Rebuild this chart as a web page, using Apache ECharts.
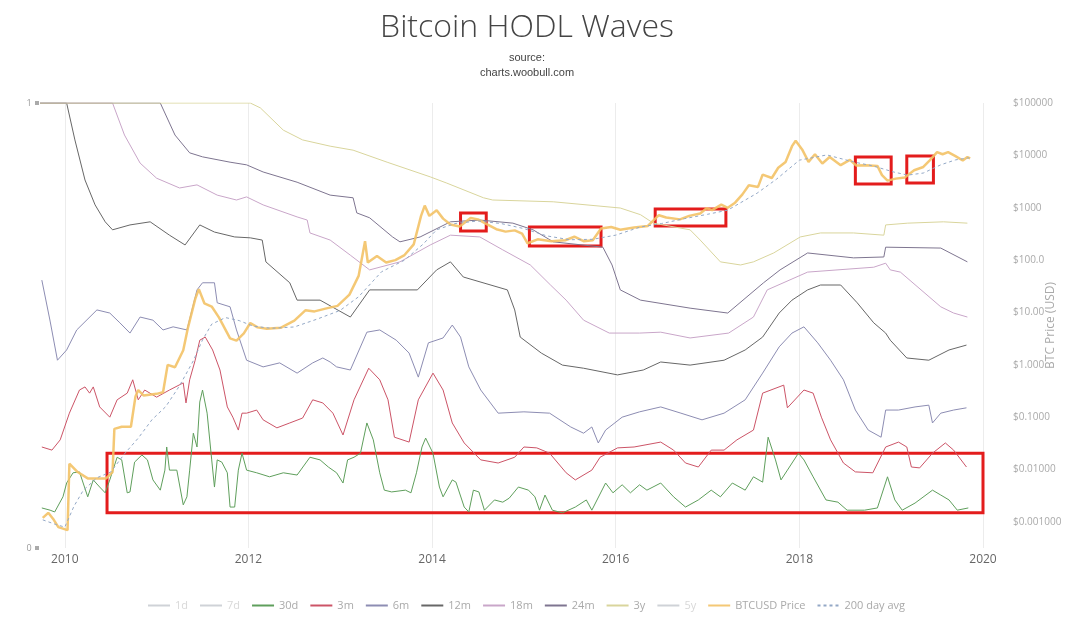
<!DOCTYPE html>
<html>
<head>
<meta charset="utf-8">
<title>Bitcoin HODL Waves</title>
<script src="https://cdn.jsdelivr.net/npm/echarts@6/dist/echarts.min.js"></script>
<style>
  html, body { margin: 0; padding: 0; background: #fff; }
  #main { width: 1080px; height: 623px; }
</style>
</head>
<body>
<div id="main"></div>
<script>
// HODL wave lines: [year, % of supply]
var hodl1d = [];
var hodl7d = [];
var hodl30d = [
  [2009.75,9.0],[2009.84,8.5],[2009.89,8.1],[2009.98,11.5],[2010.02,14.6],[2010.09,16.9],[2010.16,17.1],[2010.20,14.6],
  [2010.25,11.5],[2010.31,15.3],[2010.38,13.7],[2010.44,12.4],[2010.49,15.3],[2010.57,20.4],[2010.62,19.8],[2010.68,12.4],
  [2010.71,12.6],[2010.76,19.3],[2010.84,20.9],[2010.90,19.8],[2010.96,15.3],[2011.04,13.0],[2011.09,17.5],[2011.11,22.7],
  [2011.14,17.5],[2011.22,17.5],[2011.29,9.7],[2011.33,11.5],[2011.36,17.5],[2011.40,25.8],[2011.44,22.7],[2011.47,32.8],
  [2011.50,35.5],[2011.55,30.3],[2011.60,19.8],[2011.63,13.7],[2011.66,19.8],[2011.71,19.3],[2011.77,16.9],[2011.80,9.2],
  [2011.85,9.2],[2011.89,17.5],[2011.93,21.3],[2011.98,17.5],[2012.09,16.9],[2012.23,16.0],[2012.38,16.9],[2012.53,16.4],
  [2012.67,20.4],[2012.78,19.8],[2012.87,18.2],[2012.96,16.9],[2013.03,14.6],[2013.08,19.8],[2013.15,20.4],[2013.22,21.3],
  [2013.29,28.1],[2013.36,24.3],[2013.43,16.9],[2013.48,13.0],[2013.56,12.6],[2013.71,13.0],[2013.77,12.4],[2013.83,16.9],
  [2013.89,22.7],[2013.93,24.7],[2014.01,21.3],[2014.08,13.7],[2014.12,11.5],[2014.22,15.3],[2014.26,14.8],[2014.35,9.2],
  [2014.40,8.1],[2014.45,13.0],[2014.51,12.6],[2014.57,8.5],[2014.68,10.8],[2014.77,10.3],[2014.84,11.2],[2014.94,13.7],
  [2015.05,13.0],[2015.12,11.5],[2015.17,8.5],[2015.23,11.9],[2015.31,8.5],[2015.42,7.9],[2015.56,9.2],[2015.68,10.8],
  [2015.74,8.5],[2015.89,14.6],[2015.97,12.4],[2016.07,14.2],[2016.16,12.4],[2016.26,14.2],[2016.34,13.0],[2016.49,14.6],
  [2016.63,11.5],[2016.76,9.2],[2016.90,10.8],[2017.04,13.0],[2017.14,11.5],[2017.27,14.6],[2017.41,13.0],[2017.50,16.0],
  [2017.60,14.8],[2017.66,24.9],[2017.74,19.8],[2017.80,15.3],[2017.87,17.5],[2017.99,21.3],[2018.05,19.8],[2018.15,16.0],
  [2018.29,10.8],[2018.42,10.3],[2018.52,8.5],[2018.71,8.5],[2018.85,9.0],[2018.96,16.0],[2019.04,10.8],[2019.12,8.5],
  [2019.26,10.1],[2019.45,13.0],[2019.54,11.9],[2019.63,10.8],[2019.72,8.5],[2019.84,9.0]
];
var hodl3m = [
  [2009.75,22.7],[2009.86,22.0],[2009.95,24.3],[2010.05,30.3],[2010.16,35.5],[2010.22,36.2],[2010.27,34.8],[2010.31,36.2],
  [2010.38,31.7],[2010.49,29.4],[2010.57,33.3],[2010.68,34.8],[2010.74,37.8],[2010.80,33.3],[2010.87,35.5],[2011.00,33.9],
  [2011.14,35.5],[2011.29,37.1],[2011.32,32.6],[2011.36,37.8],[2011.42,42.2],[2011.47,46.7],[2011.53,47.4],[2011.61,44.5],
  [2011.69,40.0],[2011.77,31.7],[2011.83,29.4],[2011.89,26.5],[2011.93,30.3],[2011.98,30.3],[2012.09,31.0],[2012.16,28.8],
  [2012.31,27.0],[2012.45,28.1],[2012.59,29.2],[2012.70,33.3],[2012.81,32.6],[2012.92,30.3],[2013.03,25.4],[2013.15,33.3],
  [2013.31,40.4],[2013.43,37.8],[2013.52,33.3],[2013.59,24.9],[2013.75,23.8],[2013.85,33.3],[2014.01,39.3],[2014.12,35.5],
  [2014.22,28.1],[2014.35,23.6],[2014.53,19.8],[2014.72,19.1],[2014.90,20.4],[2015.00,22.7],[2015.14,22.5],[2015.28,21.3],
  [2015.46,16.9],[2015.56,15.3],[2015.74,17.5],[2015.83,20.4],[2016.02,22.5],[2016.20,22.7],[2016.49,23.8],[2016.63,22.0],
  [2016.76,19.1],[2016.90,18.2],[2017.04,22.0],[2017.18,22.0],[2017.32,24.3],[2017.50,26.5],[2017.60,34.8],[2017.83,36.6],
  [2017.87,31.5],[2018.05,35.5],[2018.15,34.8],[2018.24,29.4],[2018.34,24.3],[2018.48,19.1],[2018.61,17.1],[2018.80,16.9],
  [2018.94,22.7],[2019.08,23.8],[2019.17,22.7],[2019.22,18.2],[2019.31,18.0],[2019.45,21.3],[2019.59,23.6],[2019.68,22.0],
  [2019.82,18.2]
];
var hodl6m = [
  [2009.75,60.2],[2009.84,51.0],[2009.92,42.2],[2010.02,44.5],[2010.13,49.0],[2010.35,53.5],[2010.49,52.8],[2010.60,50.6],
  [2010.71,48.3],[2010.82,51.9],[2010.96,51.2],[2011.07,49.0],[2011.18,49.7],[2011.33,49.0],[2011.44,58.0],[2011.50,59.6],
  [2011.63,59.6],[2011.66,55.1],[2011.80,54.2],[2011.87,49.0],[2011.98,42.2],[2012.16,40.7],[2012.34,41.6],[2012.53,39.3],
  [2012.70,41.6],[2012.81,42.7],[2012.89,41.8],[2012.96,40.7],[2013.11,40.0],[2013.29,48.5],[2013.43,49.0],[2013.61,46.7],
  [2013.75,43.8],[2013.85,38.4],[2013.96,46.1],[2014.12,47.2],[2014.22,50.1],[2014.31,47.4],[2014.40,40.7],[2014.53,35.5],
  [2014.72,30.3],[2015.00,30.6],[2015.28,30.3],[2015.51,27.2],[2015.65,25.8],[2015.74,27.2],[2015.81,23.6],[2015.89,26.5],
  [2016.07,29.4],[2016.26,30.6],[2016.49,31.7],[2016.71,30.3],[2016.94,28.8],[2017.18,30.3],[2017.41,33.3],[2017.60,39.3],
  [2017.78,45.2],[2017.92,48.3],[2018.05,49.7],[2018.20,46.1],[2018.34,42.2],[2018.48,37.8],[2018.61,31.0],[2018.75,26.5],
  [2018.89,24.9],[2018.94,31.0],[2019.08,31.0],[2019.26,31.7],[2019.41,32.1],[2019.45,28.1],[2019.54,30.3],[2019.68,31.0],
  [2019.82,31.5]
];
var hodl12m = [
  [2009.73,100],[2010.02,100],[2010.11,91.7],[2010.22,82.7],[2010.33,77.1],[2010.44,73.3],[2010.52,71.5],[2010.71,72.6],
  [2010.93,73.3],[2011.14,70.3],[2011.31,68.1],[2011.47,72.6],[2011.63,71.0],[2011.85,69.9],[2012.02,69.7],[2012.15,69.2],
  [2012.19,64.3],[2012.45,59.6],[2012.53,55.7],[2012.78,55.7],[2013.11,51.9],[2013.32,58.0],[2013.84,58.0],[2014.05,62.5],
  [2014.20,64.3],[2014.34,60.9],[2014.82,58.0],[2014.90,53.5],[2014.96,47.4],[2015.19,43.8],[2015.42,41.1],[2015.65,40.4],
  [2016.02,38.9],[2016.30,40.0],[2016.49,41.8],[2016.81,41.1],[2017.18,42.2],[2017.41,44.5],[2017.60,47.4],[2017.78,52.8],
  [2017.92,55.7],[2018.09,58.0],[2018.23,59.1],[2018.45,59.1],[2018.63,55.1],[2018.81,50.6],[2018.94,48.3],[2018.99,46.7],
  [2019.17,42.7],[2019.41,42.2],[2019.63,44.5],[2019.82,45.6]
];
var hodl18m = [
  [2009.73,100],[2010.52,100],[2010.65,92.8],[2010.82,86.5],[2011.00,83.1],[2011.25,80.9],[2011.44,81.6],[2011.66,79.3],
  [2011.87,78.2],[2011.98,78.9],[2012.16,77.1],[2012.53,74.4],[2012.64,73.7],[2012.67,70.8],[2012.89,69.2],[2013.11,65.8],
  [2013.32,62.5],[2013.65,64.3],[2013.98,68.1],[2014.20,70.3],[2014.52,69.9],[2014.77,67.0],[2015.07,63.6],[2015.29,59.1],
  [2015.46,55.7],[2015.65,51.2],[2015.93,48.3],[2016.26,48.3],[2016.49,48.5],[2016.81,47.2],[2017.23,48.3],[2017.50,51.9],
  [2017.65,58.0],[2018.09,62.0],[2018.81,63.1],[2018.94,64.0],[2018.99,62.5],[2019.10,62.0],[2019.54,54.2],[2019.68,52.8],
  [2019.83,51.9]
];
var hodl24m = [
  [2009.73,100],[2011.04,100],[2011.20,92.8],[2011.36,88.8],[2011.50,87.9],[2011.80,86.7],[2011.98,86.1],[2012.16,84.5],
  [2012.53,82.2],[2012.89,79.3],[2013.14,78.7],[2013.18,75.3],[2013.32,74.2],[2013.57,69.9],[2013.65,68.8],[2013.87,69.9],
  [2014.20,73.3],[2014.52,73.7],[2014.88,73.0],[2015.10,71.5],[2015.32,68.8],[2015.86,67.6],[2015.96,63.6],[2016.05,58.0],
  [2016.27,55.7],[2016.81,53.9],[2017.22,52.8],[2017.61,59.6],[2017.79,62.5],[2018.09,66.3],[2018.59,65.2],[2018.92,65.4],
  [2018.94,67.6],[2019.54,67.4],[2019.83,64.3]
];
var hodl3y = [
  [2009.73,100],[2012.02,100],[2012.13,98.9],[2012.38,93.9],[2012.59,91.7],[2012.89,90.3],[2013.14,89.4],[2013.51,86.7],
  [2013.98,83.4],[2014.16,82.0],[2014.56,78.7],[2014.66,78.2],[2015.32,77.8],[2016.05,76.4],[2016.27,74.9],[2016.41,73.0],
  [2016.81,71.5],[2016.92,69.2],[2017.14,64.3],[2017.36,63.6],[2017.50,64.3],[2017.72,66.3],[2018.01,69.9],[2018.23,70.8],
  [2018.59,70.8],[2018.92,70.3],[2018.94,72.6],[2019.18,73.0],[2019.57,73.3],[2019.83,73.0]
];
var hodl5y = [];

// BTCUSD price and its 200 day average: [year, USD]
var btcPrice = [
  [2009.76,0.0012],[2009.82,0.0015],[2009.88,0.0011],[2009.93,0.0008],[2010.03,0.0007],[2010.05,0.013],[2010.14,0.009],
  [2010.25,0.0068],[2010.45,0.0068],[2010.52,0.009],[2010.54,0.06],[2010.62,0.066],[2010.72,0.066],[2010.77,0.25],
  [2010.80,0.33],[2010.86,0.26],[2011.00,0.28],[2011.07,0.3],[2011.12,1.0],[2011.20,0.9],[2011.29,1.9],[2011.34,5],
  [2011.42,18],[2011.46,28],[2011.52,15],[2011.60,13],[2011.68,8],[2011.80,3.2],[2011.87,2.9],[2011.95,4],[2012.02,6.3],
  [2012.10,5.2],[2012.20,4.9],[2012.35,5.1],[2012.50,7],[2012.62,11],[2012.72,10.5],[2012.85,12],[2012.97,13.4],
  [2013.10,22],[2013.20,50],[2013.27,230],[2013.30,90],[2013.40,120],[2013.50,90],[2013.60,100],[2013.70,125],
  [2013.80,200],[2013.88,700],[2013.92,1100],[2013.97,700],[2014.05,900],[2014.12,620],[2014.20,480],[2014.30,440],
  [2014.42,640],[2014.50,600],[2014.60,480],[2014.70,390],[2014.80,350],[2014.90,370],[2014.98,320],[2015.04,210],
  [2015.15,250],[2015.30,230],[2015.45,240],[2015.55,280],[2015.65,230],[2015.75,240],[2015.84,400],[2015.95,430],
  [2016.05,380],[2016.20,420],[2016.35,450],[2016.47,720],[2016.55,650],[2016.70,600],[2016.80,700],[2016.92,780],
  [2016.99,980],[2017.05,900],[2017.15,1150],[2017.22,1000],[2017.30,1250],[2017.38,1800],[2017.45,2700],[2017.55,2500],
  [2017.60,4300],[2017.70,3700],[2017.77,5800],[2017.85,7500],[2017.92,15000],[2017.96,19000],[2018.03,13000],
  [2018.10,7500],[2018.17,10500],[2018.25,7000],[2018.33,9300],[2018.45,6500],[2018.55,8200],[2018.62,6400],
  [2018.72,6500],[2018.85,6300],[2018.90,4200],[2018.96,3300],[2019.05,3600],[2019.15,3800],[2019.25,5200],
  [2019.35,6000],[2019.42,8000],[2019.50,11500],[2019.56,10500],[2019.62,11500],[2019.70,9700],[2019.78,8000],
  [2019.83,9300],[2019.86,8800]
];
var btcAvg200 = [
  [2009.76,0.0011],[2009.90,0.0009],[2010.00,0.0008],[2010.10,0.002],[2010.20,0.004],[2010.35,0.007],[2010.50,0.009],
  [2010.65,0.02],[2010.80,0.04],[2010.95,0.09],[2011.10,0.16],[2011.25,0.4],[2011.40,1.2],[2011.50,3],[2011.60,6],
  [2011.75,8],[2011.90,7],[2012.05,5.5],[2012.25,5],[2012.50,5.3],[2012.75,7.5],[2013.00,11],[2013.20,20],[2013.45,60],
  [2013.70,100],[2013.90,200],[2014.05,380],[2014.25,500],[2014.50,560],[2014.75,500],[2015.00,400],[2015.25,290],
  [2015.50,245],[2015.75,250],[2016.00,300],[2016.27,430],[2016.50,500],[2016.75,620],[2017.00,750],[2017.22,900],
  [2017.54,1900],[2017.75,3500],[2018.00,8100],[2018.30,10200],[2018.59,7500],[2018.80,6300],[2019.03,4800],
  [2019.18,4200],[2019.35,4600],[2019.54,6600],[2019.70,8200],[2019.85,9000]
];

var yearTicks = [2010, 2012, 2014, 2016, 2018, 2020];
var priceTickLabels = {
  '-3': '$0.001000', '-2': '$0.01000', '-1': '$0.1000', '0': '$1.000', '1': '$10.00',
  '2': '$100.0', '3': '$1000', '4': '$10000', '5': '$100000'
};

var hodlNames = ['1d', '7d', '30d', '3m', '6m', '12m', '18m', '24m', '3y', '5y'];
var hodlData = [hodl1d, hodl7d, hodl30d, hodl3m, hodl6m, hodl12m, hodl18m, hodl24m, hodl3y, hodl5y];
var hodlColors = ['#bbbbbb', '#cfcfcf', '#5f9f5c', '#cc5467', '#8d8db3', '#676767', '#c9a6c9', '#7e7590', '#d9d59c', '#c7cfd8'];

var redBox = { color: 'rgba(0,0,0,0)', borderColor: '#e31c1c', borderWidth: 3 };

var myChart = echarts.init(document.getElementById('main'));

var series = hodlNames.map(function (name, i) {
  var s = {
    name: name,
    type: 'line',
    data: hodlData[i],
    symbol: 'none',
    color: hodlColors[i],
    lineStyle: { width: 1, color: hodlColors[i] },
    xAxisIndex: 0,
    yAxisIndex: 0,
    animation: false
  };
  if (name === '30d') {
    s.markArea = {
      silent: true,
      itemStyle: redBox,
      data: [[{ coord: [2010.46, 21.3] }, { coord: [2020, 7.9] }]]
    };
  }
  return s;
});

series.push({
  name: 'BTCUSD Price',
  type: 'line',
  data: btcPrice,
  symbol: 'none',
  color: '#f3c266',
  lineStyle: { width: 2.5, color: '#f3c266', opacity: 0.9 },
  yAxisIndex: 1,
  animation: false,
  markArea: {
    silent: true,
    itemStyle: redBox,
    data: [
      [{ coord: [2014.31, 794] }, { coord: [2014.59, 361] }],
      [{ coord: [2015.06, 430] }, { coord: [2015.84, 187] }],
      [{ coord: [2016.43, 948] }, { coord: [2017.20, 450] }],
      [{ coord: [2018.61, 9310] }, { coord: [2019.00, 2845] }],
      [{ coord: [2019.17, 9750] }, { coord: [2019.46, 2970] }]
    ]
  }
});
series.push({
  name: '200 day avg',
  type: 'line',
  data: btcAvg200,
  symbol: 'none',
  color: '#93a8c6',
  lineStyle: { width: 1, type: [3, 3], color: '#93a8c6' },
  yAxisIndex: 1,
  animation: false
});

var option = {
  backgroundColor: '#fff',
  title: {
    text: 'Bitcoin HODL Waves',
    subtext: 'source:\ncharts.woobull.com',
    left: 527,
    top: 12,
    padding: 0,
    textAlign: 'center',
    itemGap: 6,
    textStyle: { fontFamily: 'Open Sans', fontWeight: 300, fontSize: 32, color: '#444' },
    subtextStyle: { fontFamily: 'Liberation Sans', fontSize: 11, color: '#444', lineHeight: 15 }
  },
  legend: {
    top: 600,
    left: 147,
    padding: 0,
    itemWidth: 22,
    itemHeight: 10,
    itemGap: 11,
    itemStyle: { opacity: 0 },
    textStyle: { fontFamily: 'Open Sans', fontSize: 11, color: '#aaa' },
    inactiveColor: '#d8d8d8',
    selected: { '1d': false, '7d': false, '5y': false },
    data: hodlNames.concat(['BTCUSD Price', '200 day avg'])
  },
  grid: {
    left: 40,
    right: 97,
    top: 103,
    bottom: 75,
    outerBoundsMode: 'none'
  },
  xAxis: {
    type: 'value',
    min: 2009.73,
    max: 2020,
    axisLine: { show: false },
    axisTick: { show: false, customValues: yearTicks },
    axisLabel: {
      customValues: yearTicks,
      color: '#666',
      fontFamily: 'Open Sans',
      fontSize: 12,
      margin: 6,
      formatter: function (v) { return String(Math.round(v)); }
    },
    splitLine: { show: true, lineStyle: { color: '#ececec', width: 1 } }
  },
  yAxis: [
    {
      type: 'value',
      min: 0,
      max: 100,
      interval: 100,
      position: 'left',
      axisLine: { show: false },
      axisTick: { show: false },
      splitLine: { show: false },
      axisLabel: {
        margin: 1,
        formatter: function (v) { return '{n|' + (v / 100) + '} {s| }'; },
        rich: {
          n: { color: '#999', fontSize: 9, fontFamily: 'Open Sans' },
          s: { backgroundColor: '#aaa', width: 4, height: 4, fontSize: 4 }
        }
      }
    },
    {
      type: 'log',
      logBase: 10,
      min: Math.pow(10, -3.496),
      max: 100000,
      splitNumber: 8,
      position: 'right',
      name: 'BTC Price (USD)',
      nameLocation: 'middle',
      nameRotate: 90,
      nameGap: 62,
      nameMoveOverlap: false,
      nameTextStyle: { color: '#aaa', fontFamily: 'Open Sans', fontSize: 12 },
      axisLine: { show: false },
      axisTick: { show: false },
      splitLine: { show: false },
      axisLabel: {
        margin: 30,
        color: '#aaa',
        fontFamily: 'Open Sans',
        fontSize: 10,
        formatter: function (v) {
          var l = Math.log(v) / Math.LN10;
          var r = Math.round(l);
          if (Math.abs(l - r) > 1e-6) return '';
          return priceTickLabels[String(r)] || '';
        }
      }
    }
  ],
  series: series
};

myChart.setOption(option);
</script>
</body>
</html>
